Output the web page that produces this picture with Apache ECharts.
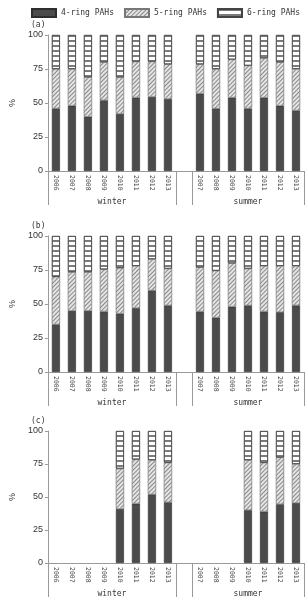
<!DOCTYPE html>
<html>
<head>
<meta charset="utf-8">
<script src="https://cdn.jsdelivr.net/npm/echarts@6/dist/echarts.min.js"></script>
<style>
  html, body { margin: 0; padding: 0; background: #fff; }
  #chart { width: 305px; height: 598px; }
</style>
</head>
<body>
<div id="chart"></div>
<script>
// categories: winter 2006–2013, an empty slot, summer 2007–2013
const years = ['2006', '2007', '2008', '2009', '2010', '2011', '2012', '2013', '',
  '2007', '2008', '2009', '2010', '2011', '2012', '2013'];
const groupNames = ['winter', 'summer'];
const ringNames = ['4-ring PAHs', '5-ring PAHs', '6-ring PAHs'];
const panelTitles = ['(a)', '(b)', '(c)'];
const yTicks = [0, 25, 50, 75, 100];

// share of each ring class (%)
const a4 = [46, 48, 40, 52, 42, 54, 54.5, 53, null, 57, 46, 54, 46, 54, 48, 44.5];
const a5 = [29, 27, 29, 28, 27, 26.5, 26, 25.5, null, 21.5, 29, 28, 31.5, 29, 32, 30.5];
const a6 = [25, 25, 31, 20, 31, 19.5, 19.5, 21.5, null, 21.5, 25, 18, 22.5, 17, 20, 25];

const b4 = [35, 45, 45, 44.5, 43, 47, 60, 49, null, 44.5, 40, 48, 49, 44.5, 44, 49];
const b5 = [35, 28.5, 28.5, 31, 33.5, 31, 23, 27, null, 32.5, 34.5, 32, 27, 33.5, 34, 29];
const b6 = [30, 26.5, 26.5, 24.5, 23.5, 22, 17, 24, null, 23, 25.5, 20, 24, 22, 22, 22];

const c4 = [null, null, null, null, 41, 45, 52, 46, null, null, null, null, 40, 39, 44.5, 45.5];
const c5 = [null, null, null, null, 30.5, 33.5, 26, 30, null, null, null, null, 38, 37, 35.5, 29.5];
const c6 = [null, null, null, null, 28.5, 21.5, 22, 24, null, null, null, null, 22, 24, 20, 25];

const panels = [[a4, a5, a6], [b4, b5, b6], [c4, c5, c6]];

const gridTops = [35, 236, 431];
const plotH = 136;
const axisGray = '#9a9a9a';
const mono = 'DejaVu Sans Mono';

const ringStyles = [
  { color: '#4b4b4b', borderColor: '#2e2e2e', borderWidth: 0.6 },
  {
    color: '#e4e4e4', borderColor: '#777', borderWidth: 0.4,
    decal: { symbol: 'rect', symbolSize: 1, color: '#8a8a8a', dashArrayX: [1, 0], dashArrayY: [1, 1.6], rotation: -Math.PI / 4 }
  },
  {
    color: '#ffffff', borderColor: '#444', borderWidth: 0.7,
    decal: { symbol: 'rect', symbolSize: 1, color: '#7a7a7a', dashArrayX: [1, 0], dashArrayY: [1.3, 2.4], rotation: 0 }
  }
];

const chart = echarts.init(document.getElementById('chart'));

const grids = [], xAxes = [], yAxes = [], series = [], titles = [];
panels.forEach((rings, i) => {
  grids.push({ left: 28, right: 1, top: gridTops[i], height: plotH });

  // year row
  xAxes.push({
    type: 'category', gridIndex: i, data: years,
    axisLine: { lineStyle: { color: axisGray, width: 1 } },
    axisTick: { interval: 0, length: 22, lineStyle: { color: axisGray } },
    axisLabel: { interval: 0, rotate: -90, margin: 4, fontSize: 6.5, fontFamily: mono, color: '#444' }
  });
  // season row
  xAxes.push({
    type: 'value', gridIndex: i, min: 0, max: years.length, position: 'bottom',
    axisLine: { show: false }, splitLine: { show: false },
    axisTick: { show: true, customValues: [0, 8, 9, 16], length: 34, lineStyle: { color: axisGray } },
    axisLabel: {
      customValues: [4, 12.5], margin: 27, fontSize: 8, fontFamily: mono, color: '#333',
      formatter: v => (v < 8 ? groupNames[0] : groupNames[1])
    }
  });

  yAxes.push({
    type: 'value', gridIndex: i, min: 0, max: 100, interval: 25,
    name: '%', nameLocation: 'middle', nameGap: 23, nameRotate: 90,
    nameTextStyle: { fontSize: 9, color: '#333' },
    axisLine: { show: true, lineStyle: { color: axisGray } },
    axisTick: { show: true, length: 3, lineStyle: { color: axisGray } },
    axisLabel: { fontSize: 9, color: '#333', margin: 5, fontFamily: 'Liberation Sans',
      customValues: yTicks },
    splitLine: { show: false }
  });

  titles.push({
    text: panelTitles[i], left: 31, top: gridTops[i] - 14, padding: 0,
    textStyle: { fontSize: 8, fontWeight: 'normal', fontFamily: mono, color: '#333' }
  });

  rings.forEach((vals, k) => {
    series.push({
      name: ringNames[k], type: 'bar', stack: 'p' + i,
      xAxisIndex: i * 2, yAxisIndex: i,
      data: vals, barWidth: 8,
      itemStyle: ringStyles[k],
      emphasis: { disabled: true }
    });
  });
});

chart.setOption({
  animation: false,
  backgroundColor: '#fff',
  title: titles,
  legend: {
    data: ringNames, left: 31, top: 8, width: 274, padding: 0,
    icon: 'rect', itemWidth: 24, itemHeight: 8, itemGap: 10,
    textStyle: { fontSize: 8, fontFamily: mono, color: '#333' }
  },
  grid: grids,
  xAxis: xAxes,
  yAxis: yAxes,
  series: series
});
</script>
</body>
</html>
